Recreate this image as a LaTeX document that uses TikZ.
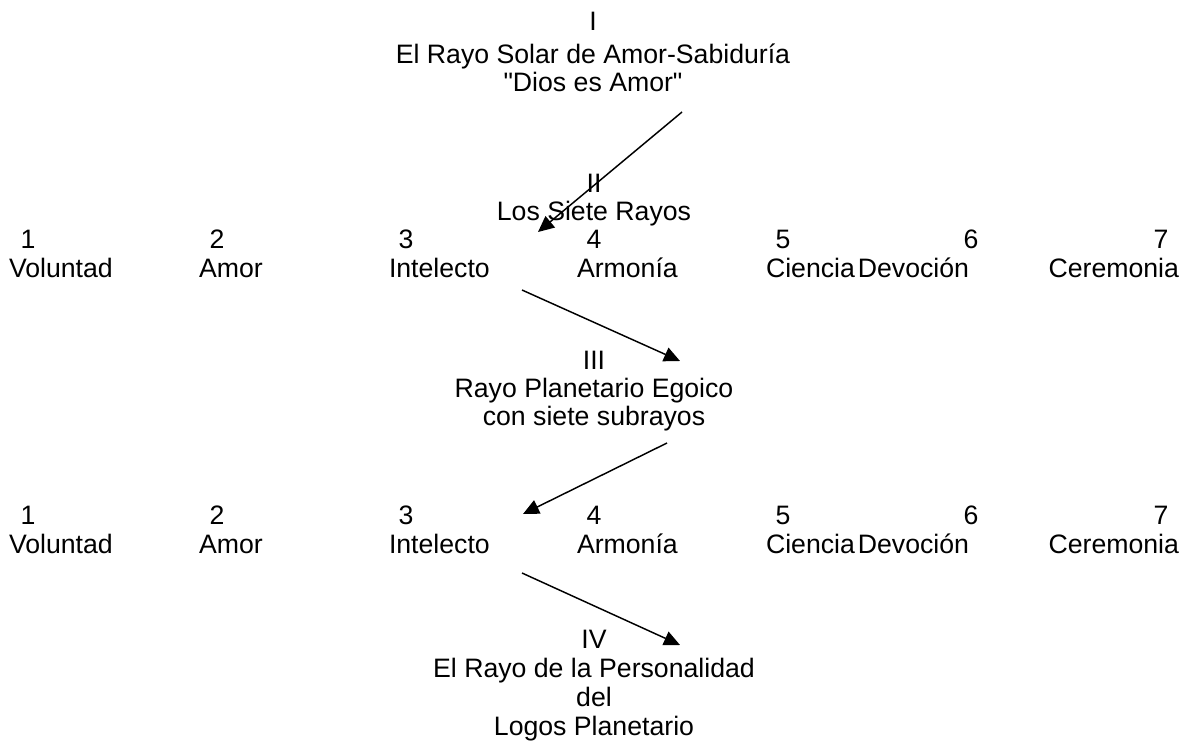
\documentclass[tikz,border=0pt]{standalone}
\usepackage{fontspec}
\setmainfont{Liberation Sans}[Ligatures=TeXOff]
\usetikzlibrary{arrows.meta}
\begin{document}
\begin{tikzpicture}[x=0.75pt,y=-0.75pt,
  txt/.style={inner sep=0pt,outer sep=0pt,font=\fontsize{20}{24}\selectfont,anchor=base},
  lbl/.style={txt,anchor=base west},
  lblr/.style={txt,anchor=base east},
  ray/.style={line width=1.1pt,-{Triangle[length=12pt,width=11pt]}}]
\useasboundingbox (0,0) rectangle (1181,742);
% top block
\node[txt] (t1) at (593,31) {I};
\node[txt] (t2) at (593,64) {El Rayo Solar de Amor-Sabiduría};
\node[txt] (t3) at (593,91) {"Dios es Amor"};
% II
\node[txt] (s1) at (594,192) {II};
\node[txt] (s2) at (594,220) {Los Siete Rayos};
% row 1
\foreach \n/\x in {1/28,2/217,3/406,4/594,5/783,6/971,7/1161}
  \node[txt] (na\n) at (\x,248) {\n};
\node[lbl] (la1) at (9,277) {Voluntad};
\node[lbl] (la2) at (199,277) {Amor};
\node[lbl] (la3) at (389,277) {Intelecto};
\node[lbl] (la4) at (577,277) {Armonía};
\node[lbl] (la5) at (766,277) {Ciencia};
\node[lblr] (la6) at (969,277) {Devoción};
\node[lblr] (la7) at (1179,277) {Ceremonia};
% III
\node[txt] (p1) at (594,369) {III};
\node[txt] (p2) at (594,397) {Rayo Planetario Egoico};
\node[txt] (p3) at (594,425) {con siete subrayos};
% row 2
\foreach \n/\x in {1/28,2/217,3/406,4/594,5/783,6/971,7/1161}
  \node[txt] (nb\n) at (\x,524) {\n};
\node[lbl] (lb1) at (9,553) {Voluntad};
\node[lbl] (lb2) at (199,553) {Amor};
\node[lbl] (lb3) at (389,553) {Intelecto};
\node[lbl] (lb4) at (577,553) {Armonía};
\node[lbl] (lb5) at (766,553) {Ciencia};
\node[lblr] (lb6) at (969,553) {Devoción};
\node[lblr] (lb7) at (1179,553) {Ceremonia};
% IV
\node[txt] (q1) at (594,648) {IV};
\node[txt] (q2) at (594,677) {El Rayo de la Personalidad};
\node[txt] (q3) at (594,706) {del};
\node[txt] (q4) at (594,735) {Logos Planetario};
% arrow end points
\coordinate (a1s) at (682,112);
\coordinate (a1e) at (538,232);
\coordinate (a2s) at (522,290);
\coordinate (a2e) at (680,361);
\coordinate (a3s) at (667,443);
\coordinate (a3e) at (523,514);
\coordinate (a4s) at (522,573);
\coordinate (a4e) at (680,645);
\draw[ray] (a1s) -- (a1e);
\draw[ray] (a2s) -- (a2e);
\draw[ray] (a3s) -- (a3e);
\draw[ray] (a4s) -- (a4e);
\end{tikzpicture}
\end{document}
